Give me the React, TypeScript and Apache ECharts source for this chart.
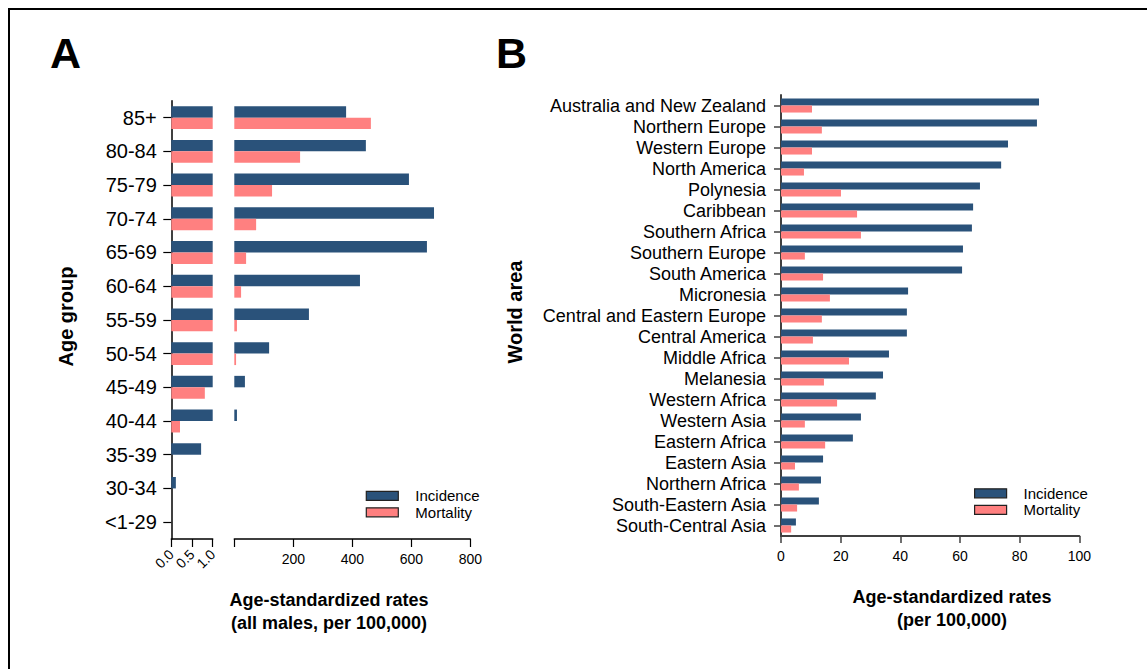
import React, { useEffect, useRef } from 'react';
import * as echarts from 'echarts';

// Panel A: age groups (bottom to top)
const ageGroups = ['<1-29', '30-34', '35-39', '40-44', '45-49', '50-54', '55-59', '60-64', '65-69', '70-74', '75-79', '80-84', '85+'];
const ageIncidence = [0, 0.11, 0.72, 9, 36, 118, 253, 426, 653, 677, 592, 446, 379];
const ageMortality = [0, 0, 0, 0.21, 0.81, 6, 9, 23, 40, 74, 128, 223, 463];

// Panel B: world areas (top to bottom)
const worldAreas = [
  'Australia and New Zealand', 'Northern Europe', 'Western Europe', 'North America', 'Polynesia',
  'Caribbean', 'Southern Africa', 'Southern Europe', 'South America', 'Micronesia',
  'Central and Eastern Europe', 'Central America', 'Middle Africa', 'Melanesia', 'Western Africa',
  'Western Asia', 'Eastern Africa', 'Eastern Asia', 'Northern Africa', 'South-Eastern Asia', 'South-Central Asia',
];
const areaIncidence = [86.5, 85.8, 76.1, 73.8, 66.7, 64.4, 64.0, 61.0, 60.7, 42.6, 42.2, 42.2, 36.2, 34.2, 31.8, 26.8, 24.1, 14.1, 13.4, 12.7, 5.0];
const areaMortality = [10.4, 13.7, 10.4, 7.7, 20.1, 25.5, 26.8, 8.0, 14.1, 16.4, 13.7, 10.7, 22.8, 14.4, 18.8, 8.0, 14.8, 4.7, 6.0, 5.4, 3.4];

const BREAK_LOW_MAX = 1;
const BREAK_HIGH_MAX = 800;

const FONT = '"Liberation Sans", Arial, Helvetica, sans-serif';
const BLUE = '#2a527a';
const PINK = '#ff8080';

export default function App() {
  const ref = useRef<HTMLDivElement>(null);

  useEffect(() => {
    if (!ref.current) return;
    const chart = echarts.init(ref.current, undefined, { renderer: 'svg' });

    const barCommon = { barGap: '0%', barCategoryGap: '32%', silent: true };
    const barCommonB = { barGap: '0%', barCategoryGap: '33%', silent: true };

    const legendCommon = {
      data: ['Incidence', 'Mortality'], orient: 'vertical', padding: 0,
      icon: 'rect', itemWidth: 32, itemHeight: 9, itemGap: 1.5, selectedMode: false,
      itemStyle: { borderColor: '#222', borderWidth: 1.2 },
      textStyle: { fontSize: 15, lineHeight: 15, color: '#000', padding: [0, 0, 0, 12], fontFamily: FONT },
    };

    const option: any = {
      animation: false,
      backgroundColor: '#fff',
      textStyle: { fontFamily: FONT },
      grid: [
        { left: 171.3, width: 41.4, top: 100.8, height: 438.2 },
        { left: 234.3, width: 236, top: 100.8, height: 438.2 },
        { left: 781, width: 298.3, top: 95, height: 441 },
      ],
      xAxis: [
        {
          gridIndex: 0, type: 'value', min: 0, max: BREAK_LOW_MAX, interval: 0.5,
          axisLine: { show: true, lineStyle: { color: '#000', width: 1.5 } },
          axisTick: { show: true, length: 8, lineStyle: { color: '#000', width: 1.2 } },
          splitLine: { show: false },
          axisLabel: { rotate: 45, fontSize: 14, color: '#000', margin: 13, formatter: (v: number) => v.toFixed(1), fontFamily: FONT },
        },
        {
          gridIndex: 1, type: 'value', min: 0, max: BREAK_HIGH_MAX, interval: 200,
          axisLine: { show: true, lineStyle: { color: '#000', width: 1.5 } },
          axisTick: { show: true, length: 8, lineStyle: { color: '#000', width: 1.2 } },
          splitLine: { show: false },
          axisLabel: { fontSize: 14, color: '#000', margin: 13, formatter: (v: number) => (v === 0 ? '' : String(v)), fontFamily: FONT },
        },
        {
          gridIndex: 2, type: 'value', min: 0, max: 100, interval: 20,
          axisLine: { show: true, lineStyle: { color: '#404040', width: 2 } },
          axisTick: { show: true, length: 7, lineStyle: { color: '#404040', width: 1.5 } },
          splitLine: { show: false },
          axisLabel: { fontSize: 14, color: '#000', margin: 13, fontFamily: FONT },
        },
      ],
      yAxis: [
        {
          gridIndex: 0, type: 'category', data: ageGroups,
          axisLine: { show: true, lineStyle: { color: '#000', width: 1.5 } },
          axisTick: { show: true, alignWithLabel: true, length: 8, lineStyle: { color: '#000', width: 1.2 } },
          axisLabel: { interval: 0, fontSize: 20, color: '#000', margin: 14.5, fontFamily: FONT },
        },
        {
          gridIndex: 1, type: 'category', data: ageGroups, show: false,
        },
        {
          gridIndex: 2, type: 'category', data: worldAreas, inverse: true,
          axisLine: { show: true, lineStyle: { color: '#404040', width: 2 } },
          axisTick: { show: true, interval: 0, alignWithLabel: true, length: 7, lineStyle: { color: '#404040', width: 1.5 } },
          axisLabel: { interval: 0, fontSize: 18, color: '#000', margin: 15, fontFamily: FONT },
        },
      ],
      legend: [
        { ...legendCommon, left: 365.7, top: 488.3 },
        { ...legendCommon, left: 974, top: 485.8 },
      ],
      series: [
        { ...barCommon, type: 'bar', name: 'Incidence', xAxisIndex: 0, yAxisIndex: 0, itemStyle: { color: BLUE }, data: ageIncidence.map((v) => Math.min(v, BREAK_LOW_MAX)) },
        { ...barCommon, type: 'bar', name: 'Mortality', xAxisIndex: 0, yAxisIndex: 0, itemStyle: { color: PINK }, data: ageMortality.map((v) => Math.min(v, BREAK_LOW_MAX)) },
        { ...barCommon, type: 'bar', name: 'Incidence', xAxisIndex: 1, yAxisIndex: 1, itemStyle: { color: BLUE }, data: ageIncidence.map((v) => (v > BREAK_LOW_MAX ? v : null)) },
        { ...barCommon, type: 'bar', name: 'Mortality', xAxisIndex: 1, yAxisIndex: 1, itemStyle: { color: PINK }, data: ageMortality.map((v) => (v > BREAK_LOW_MAX ? v : null)) },
        { ...barCommonB, type: 'bar', name: 'Incidence', xAxisIndex: 2, yAxisIndex: 2, itemStyle: { color: BLUE }, data: areaIncidence },
        { ...barCommonB, type: 'bar', name: 'Mortality', xAxisIndex: 2, yAxisIndex: 2, itemStyle: { color: PINK }, data: areaMortality },
      ],
      graphic: [
        { type: 'text', x: 50, y: 53.4, style: { text: 'A', font: `bold 43px ${FONT}`, fill: '#000', textAlign: 'left', textVerticalAlign: 'middle' } },
        { type: 'text', x: 496, y: 53.4, style: { text: 'B', font: `bold 43px ${FONT}`, fill: '#000', textAlign: 'left', textVerticalAlign: 'middle' } },
        { type: 'text', x: 66, y: 316.5, rotation: Math.PI / 2, style: { text: 'Age group', font: `bold 20px ${FONT}`, fill: '#000', textAlign: 'center', textVerticalAlign: 'middle' } },
        { type: 'text', x: 515, y: 312, rotation: Math.PI / 2, style: { text: 'World area', font: `bold 20px ${FONT}`, fill: '#000', textAlign: 'center', textVerticalAlign: 'middle' } },
        { type: 'text', x: 329, y: 611.5, style: { text: 'Age-standardized rates\n(all males, per 100,000)', font: `bold 18px ${FONT}`, lineHeight: 23, fill: '#000', textAlign: 'center', textVerticalAlign: 'middle' } },
        { type: 'text', x: 952, y: 608.5, style: { text: 'Age-standardized rates\n(per 100,000)', font: `bold 18px ${FONT}`, lineHeight: 23, fill: '#000', textAlign: 'center', textVerticalAlign: 'middle' } },
      ],
    };

    chart.setOption(option);
    return () => chart.dispose();
  }, []);

  return (
    <>
      <div ref={ref} style={{ position: 'fixed', left: 0, top: 0, width: 1147, height: 669 }} />
      <div
        style={{
          position: 'fixed', left: 8, top: 8, width: 1300, height: 800,
          borderTop: '2px solid #000', borderLeft: '2px solid #000', pointerEvents: 'none',
        }}
      />
    </>
  );
}
